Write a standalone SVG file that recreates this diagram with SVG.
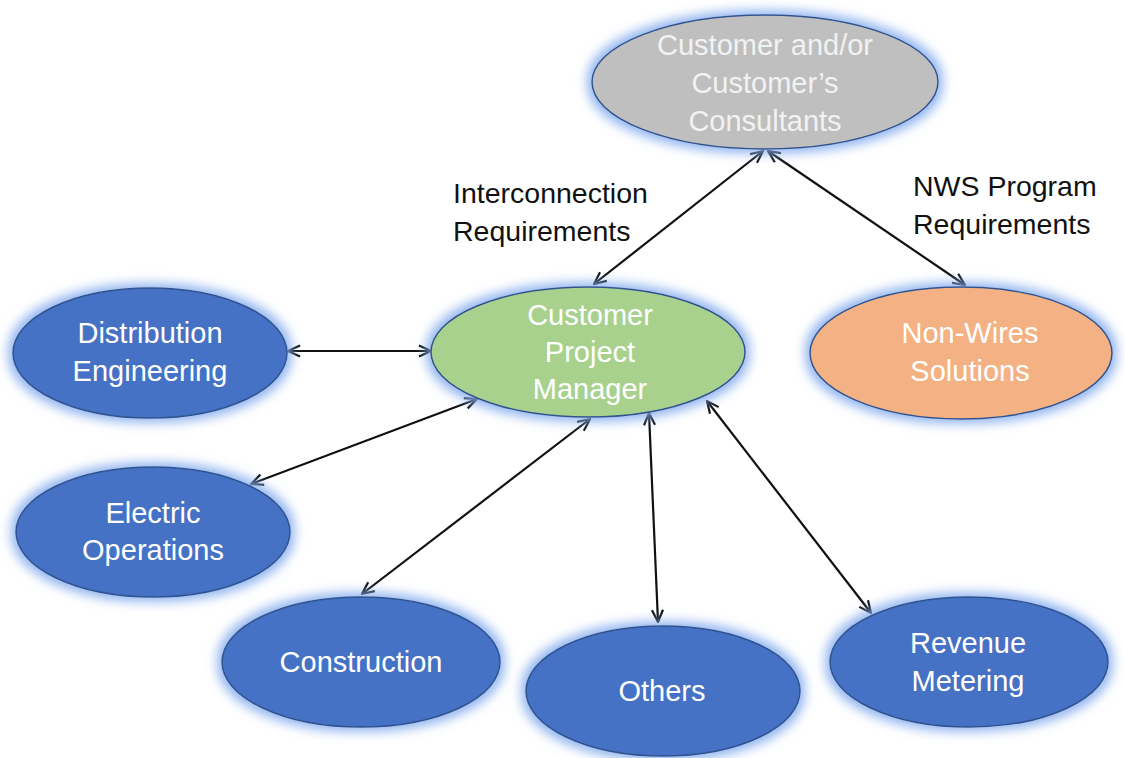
<svg xmlns="http://www.w3.org/2000/svg" width="1125" height="758" viewBox="0 0 1125 758">
  <style>
    .node { stroke: #2F528F; stroke-width: 1.5; filter: url(#glow); }
    .blue { fill: #4472C4; }
    .green { fill: #A9D18E; }
    .orange { fill: #F4B183; }
    .gray { fill: #BFBFBF; }
    .lbl { font-family: "Liberation Sans", Arial, sans-serif; font-size: 29px; fill: #FFFFFF; text-anchor: middle; }
    .lbl-light { fill: #F2F2F2; }
    .note { font-family: "Liberation Sans", Arial, sans-serif; font-size: 28.5px; fill: #111111; }
    .conn { stroke: #111111; stroke-width: 2.2; fill: none; marker-start: url(#arr); marker-end: url(#arr); }
  </style>
  <defs>
    <filter id="glow" x="-25%" y="-35%" width="150%" height="170%">
      <feMorphology in="SourceAlpha" operator="dilate" radius="4" result="d"/>
      <feGaussianBlur in="d" stdDeviation="5.5" result="b"/>
      <feFlood flood-color="#86ADEE" flood-opacity="0.9" result="f"/>
      <feComposite in="f" in2="b" operator="in" result="g"/>
      <feMerge>
        <feMergeNode in="g"/>
        <feMergeNode in="SourceGraphic"/>
      </feMerge>
    </filter>
    <marker id="arr" viewBox="0 0 14 14" refX="13" refY="7" markerWidth="14" markerHeight="14" markerUnits="userSpaceOnUse" orient="auto-start-reverse">
      <path d="M1,1.5 L13,7 L1,12.5" fill="none" stroke="#111111" stroke-width="2.2" stroke-linejoin="miter"/>
    </marker>
  </defs>
  <rect x="0" y="0" width="1125" height="758" fill="#FFFFFF"/>

  <g id="connectors">
    <line class="conn" x1="594" y1="284" x2="763" y2="151"/>
    <line class="conn" x1="768" y1="151" x2="965" y2="285"/>
    <line class="conn" x1="288" y1="351" x2="431" y2="351"/>
    <line class="conn" x1="251" y1="484" x2="477" y2="399"/>
    <line class="conn" x1="362" y1="594" x2="590" y2="419"/>
    <line class="conn" x1="649" y1="413" x2="658" y2="622"/>
    <line class="conn" x1="707" y1="401" x2="871" y2="613"/>
  </g>

  <g id="node-customer">
    <ellipse class="node gray" cx="765" cy="82" rx="173" ry="67"/>
    <text class="lbl lbl-light" x="765" y="55">Customer and/or</text>
    <text class="lbl lbl-light" x="765" y="93">Customer’s</text>
    <text class="lbl lbl-light" x="765" y="131">Consultants</text>
  </g>

  <g id="node-cpm">
    <ellipse class="node green" cx="588" cy="352" rx="157" ry="65"/>
    <text class="lbl" x="590" y="325">Customer</text>
    <text class="lbl" x="590" y="362">Project</text>
    <text class="lbl" x="590" y="399">Manager</text>
  </g>

  <g id="node-distribution">
    <ellipse class="node blue" cx="150" cy="353" rx="137" ry="65"/>
    <text class="lbl" x="150" y="343">Distribution</text>
    <text class="lbl" x="150" y="381">Engineering</text>
  </g>

  <g id="node-electric">
    <ellipse class="node blue" cx="153" cy="532" rx="137" ry="65"/>
    <text class="lbl" x="153" y="523">Electric</text>
    <text class="lbl" x="153" y="560">Operations</text>
  </g>

  <g id="node-nonwires">
    <ellipse class="node orange" cx="961" cy="353" rx="151" ry="66"/>
    <text class="lbl" x="970" y="343">Non-Wires</text>
    <text class="lbl" x="970" y="381">Solutions</text>
  </g>

  <g id="node-construction">
    <ellipse class="node blue" cx="361" cy="662" rx="139" ry="65"/>
    <text class="lbl" x="361" y="672">Construction</text>
  </g>

  <g id="node-others">
    <ellipse class="node blue" cx="663" cy="691" rx="137" ry="65"/>
    <text class="lbl" x="662" y="701">Others</text>
  </g>

  <g id="node-revenue">
    <ellipse class="node blue" cx="969" cy="662" rx="139" ry="65"/>
    <text class="lbl" x="968" y="653">Revenue</text>
    <text class="lbl" x="968" y="691">Metering</text>
  </g>

  <g id="labels">
    <text class="note" x="453" y="203">Interconnection</text>
    <text class="note" x="453" y="241">Requirements</text>
    <text class="note" x="913" y="196">NWS Program</text>
    <text class="note" x="913" y="234">Requirements</text>
  </g>
</svg>
